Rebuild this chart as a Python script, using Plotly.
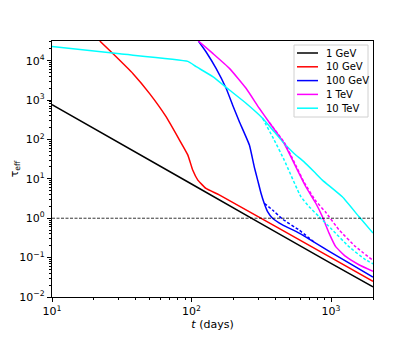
import plotly.graph_objects as go

# effective optical depth vs time
t_1gev = [10, 100, 1000, 2000]
tau_1gev = [770, 7.4, 0.071, 0.018]

t_10gev = [22.0, 27.4, 38.1, 50.1, 65.9, 82.1, 94.2, 102, 111, 127, 158, 1000, 2000]
tau_10gev = [31600, 15000, 4690, 1460, 373, 96, 40, 16.7, 9.3, 5.7, 3.9, 0.1, 0.025]

t_100gev = [112, 127, 150, 177, 197, 220, 260, 282, 298, 315, 332, 351, 381, 449, 591, 1020, 2000]
tau_100gev = [31600, 16900, 6380, 1990, 752, 286, 72, 19.9, 9.3, 4.3, 2.4, 1.47, 1.0, 0.68, 0.42, 0.13, 0.032]
t_100gev_d = [332, 381, 449, 591, 760]
tau_100gev_d = [2.4, 1.62, 0.95, 0.5, 0.245]

t_1tev = [112, 142, 187, 246, 306, 361, 462, 544, 660, 778, 867, 968, 1081, 1274, 1585, 2000]
tau_1tev = [31600, 15300, 6380, 1990, 620, 270, 79, 24.7, 6.3, 2.4, 1.1, 0.42, 0.19, 0.107, 0.066, 0.045]
t_1tev_d = [361, 462, 544, 641, 778, 916, 1140, 1500, 2000]
tau_1tev_d = [270, 84, 27, 8.2, 2.74, 1.42, 0.51, 0.19, 0.085]

t_10tev = [10, 30.6, 94.2, 108, 142, 187, 246, 323, 392, 462, 544, 641, 757, 867, 1205, 1585, 2000]
tau_10tev = [23000, 14900, 9600, 7050, 3940, 1800, 830, 346, 156, 79, 44, 27, 15.1, 9.3, 3.5, 1.1, 0.42]
t_10tev_d = [323, 392, 462, 608, 697, 820, 1020, 1344, 1770, 2000]
tau_10tev_d = [346, 96, 29.9, 3.52, 1.97, 1.1, 0.51, 0.19, 0.088, 0.07]

labels = ['1 GeV', '10 GeV', '100 GeV', '1 TeV', '10 TeV']
colors = ['black', 'red', 'blue', 'magenta', 'cyan']

threshold = 1
t_range = [10, 2000]
x_exponents = [1, 2, 3]
y_exponents = [-2, -1, 0, 1, 2, 3, 4]

# page body has an 8px margin, so the figure is laid out 8px in from the window edge
W, H = 399, 324
L, R, T, B = 44, 34, 33, 35
pw, ph = W - L - R, H - T - B
OFF = 8

fig = go.Figure()

solid_t = [t_1gev, t_10gev, t_100gev, t_1tev, t_10tev]
solid_tau = [tau_1gev, tau_10gev, tau_100gev, tau_1tev, tau_10tev]
for name, col, t, tau in zip(labels, colors, solid_t, solid_tau):
    fig.add_trace(go.Scatter(
        x=t, y=tau, mode='lines', name=name, showlegend=False,
        line=dict(color=col, width=1.5, shape='spline', smoothing=0.4),
    ))

dashed = [
    ('blue', t_100gev_d, tau_100gev_d),
    ('magenta', t_1tev_d, tau_1tev_d),
    ('cyan', t_10tev_d, tau_10tev_d),
]
for col, t, tau in dashed:
    fig.add_trace(go.Scatter(
        x=t, y=tau, mode='lines', showlegend=False,
        line=dict(color=col, width=1.5, dash='3px,2px', shape='spline', smoothing=0.4),
    ))

# tau = 1 reference line
fig.add_trace(go.Scatter(
    x=t_range, y=[threshold, threshold], mode='lines', showlegend=False,
    line=dict(color='black', width=0.8, dash='3px,1.5px'),
))

# matplotlib-like legend box drawn in paper coordinates (window pixel positions)
def px(x):
    return (x - OFF - L) / pw

def py(y):
    return (H - B - (y - OFF)) / ph

fig.add_shape(type='rect', xref='paper', yref='paper',
              x0=px(294), x1=px(368), y0=py(117), y1=py(45),
              line=dict(color='#d0d0d0', width=1), fillcolor='rgba(255,255,255,0.8)')
for i, (name, col) in enumerate(zip(labels, colors)):
    yy = 53 + i * 13.8
    fig.add_shape(type='line', xref='paper', yref='paper',
                  x0=px(297), x1=px(318), y0=py(yy), y1=py(yy),
                  line=dict(color=col, width=1.5))
    fig.add_annotation(xref='paper', yref='paper', x=px(324), y=py(yy),
                       text=name, showarrow=False, xanchor='left', yanchor='middle',
                       font=dict(size=10, color='black'))

def log_axis(exps):
    minor = [m * 10 ** e for e in range(exps[0] - 1, exps[-1] + 1) for m in range(2, 10)]
    return dict(
        type='log', showgrid=False, zeroline=False, automargin=False,
        showline=True, linecolor='black', linewidth=1.2, mirror=True,
        ticks='outside', ticklen=4, tickcolor='black',
        tickmode='array', tickvals=[10 ** e for e in exps],
        ticktext=['10<sup>%d</sup>' % e if e >= 0 else '10<sup>\u2212%d</sup>' % -e for e in exps],
        tickfont=dict(size=11, color='black'),
        minor=dict(ticks='outside', ticklen=2, tickcolor='black', tickmode='array', tickvals=minor),
    )

fig.update_layout(
    width=W, height=H,
    margin=dict(l=L, r=R, t=T, b=B),
    paper_bgcolor='white', plot_bgcolor='white',
    font=dict(family='DejaVu Sans', size=11, color='black'),
    showlegend=False,
    xaxis=dict(log_axis(x_exponents), range=[1, 3.30103],
               title=dict(text='<i>t</i> (days)', standoff=0, font=dict(size=11))),
    yaxis=dict(log_axis(y_exponents), range=[-2, 4.5],
               title=dict(text='τ<sub>eff</sub>', standoff=6, font=dict(size=11))),
)

fig.write_html('out.html')
